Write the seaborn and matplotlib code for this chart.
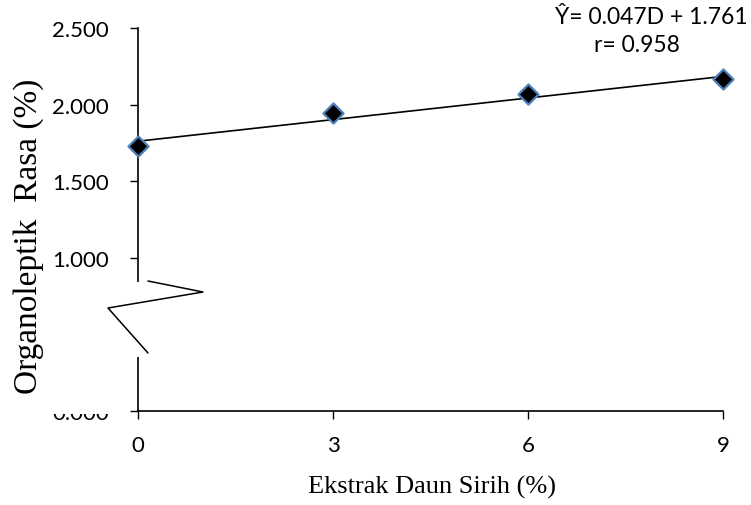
import matplotlib
matplotlib.use("Agg")
import matplotlib.pyplot as plt
from matplotlib.lines import Line2D
from matplotlib.patches import Rectangle
import pandas as pd
import seaborn as sns

# Observed taste scores at each betel-leaf extract level
extract_pct = [0, 3, 6, 9]
taste_score = [1.729, 1.948, 2.069, 2.167]

# Fitted regression  Y = a*D + b
slope = 0.047
intercept = 1.761
r_value = 0.958

x_ticks = [0, 3, 6, 9]
y_ticks = [0.0, 0.5, 1.0, 1.5, 2.0, 2.5]
y_tick_labels = ["0.000", "0.500", "1.000", "1.500", "2.000", "2.500"]

sns.set_theme(style="ticks")
plt.rcParams["font.family"] = ["Lato", "DejaVu Sans"]

W, H = 751, 506
fig = plt.figure(figsize=(W / 100, H / 100), dpi=100)
ax = fig.add_axes([138 / W, (H - 412) / H, (723 - 138) / W, (412 - 29) / H])

df = pd.DataFrame({"D": extract_pct, "Y": taste_score})
fit = pd.DataFrame({"D": [extract_pct[0], extract_pct[-1]]})
fit["Y"] = slope * fit["D"] + intercept

sns.lineplot(data=fit, x="D", y="Y", ax=ax, color="black", linewidth=1.2,
             zorder=3, clip_on=False)
sns.scatterplot(data=df, x="D", y="Y", ax=ax, marker="D", s=105,
                color="black", edgecolor="#4f81bd", linewidth=1.6,
                zorder=4, clip_on=False)

ax.set_xlim(0, 9)
ax.set_ylim(0, 2.5)
ax.set_xticks(x_ticks)
ax.set_xticklabels([str(v) for v in x_ticks])
ax.set_yticks(y_ticks)
ax.set_yticklabels(y_tick_labels)
ax.tick_params(axis="both", direction="out", length=6, width=1.0,
               color="black", labelsize=16, labelcolor="black")
ax.tick_params(axis="y", pad=15)
ax.tick_params(axis="x", pad=11)
for side in ("top", "right"):
    ax.spines[side].set_visible(False)
for side in ("left", "bottom"):
    ax.spines[side].set_color("black")
    ax.spines[side].set_linewidth(1.2)

serif = ["Liberation Serif", "DejaVu Serif"]
ax.set_xlabel("Ekstrak Daun Sirih (%)", fontsize=19, family=serif, color="black")
ax.set_ylabel("Organoleptik  Rasa (%)", fontsize=24, family=serif, color="black")
ax.xaxis.set_label_coords((432 - 138) / 585, (412 - 476) / 383)
ax.yaxis.set_label_coords((44 - 138) / 585, (412 - 236) / 383)

# Regression equation and correlation coefficient
fig.text(748 / W, (H - 17) / H, f"Ŷ= {slope:.3f}D + {intercept:.3f}",
         ha="right", va="center", fontsize=16.5, color="black")
fig.text(637 / W, (H - 45) / H, f"r= {r_value:.3f}",
         ha="center", va="center", fontsize=16.5, color="black")


# Axis break: white mask over the lower axis segment and a zigzag marker
def to_fig(x, y):
    return x / W, (H - y) / H


x0, y0 = to_fig(45, 415)
x1, y1 = to_fig(127, 283)
fig.patches.append(Rectangle((x0, y0), x1 - x0, y1 - y0, transform=fig.transFigure,
                             facecolor="white", edgecolor="none", zorder=5))
x0, y0 = to_fig(127, 358)
x1, y1 = to_fig(146, 283)
fig.patches.append(Rectangle((x0, y0), x1 - x0, y1 - y0, transform=fig.transFigure,
                             facecolor="white", edgecolor="none", zorder=5))
zz = [to_fig(148, 282), to_fig(203, 293), to_fig(108, 309), to_fig(148, 354)]
fig.lines.append(Line2D([p[0] for p in zz], [p[1] for p in zz],
                        transform=fig.transFigure, color="black",
                        linewidth=1.1, zorder=6))

fig.savefig("out.png", dpi=100)
